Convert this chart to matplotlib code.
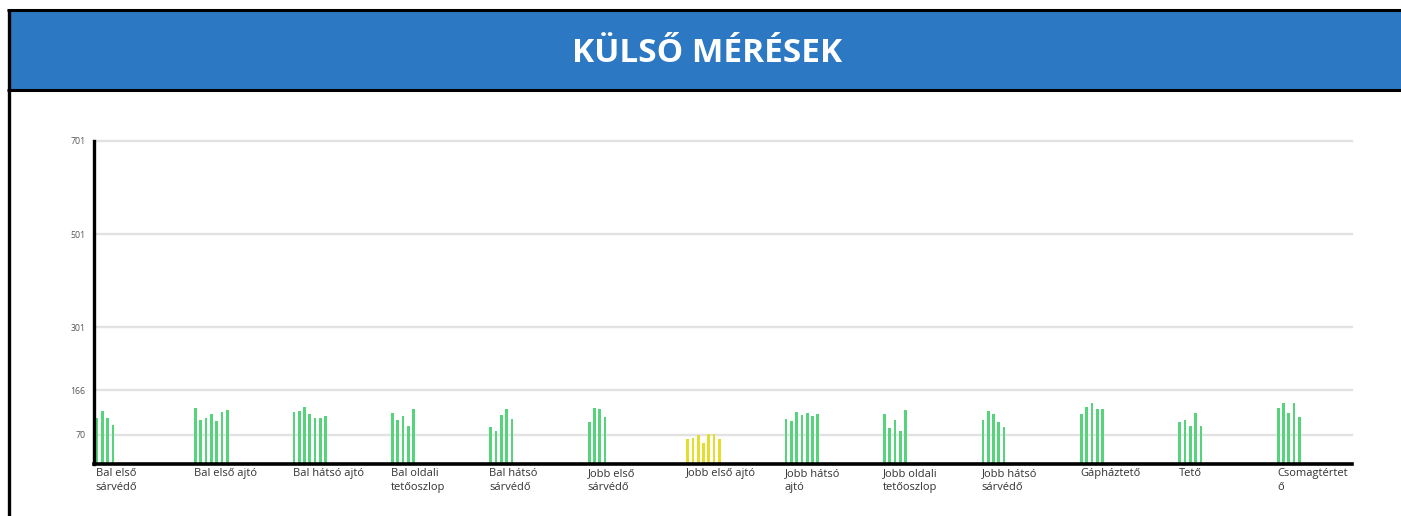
"""Külső mérések - bar chart recreation."""
import matplotlib
matplotlib.use("Agg")
import matplotlib.pyplot as plt
from matplotlib.patches import Rectangle
from matplotlib.lines import Line2D

TITLE = "KÜLSŐ MÉRÉSEK"

categories = [
    "Bal első\nsárvédő", "Bal első ajtó", "Bal hátsó ajtó", "Bal oldali\ntetőoszlop",
    "Bal hátsó\nsárvédő", "Jobb első\nsárvédő", "Jobb első ajtó", "Jobb hátsó\najtó",
    "Jobb oldali\ntetőoszlop", "Jobb hátsó\nsárvédő", "Gápháztető", "Tető", "Csomagtértet\nő",
]

# measured values per panel
values = [
    [106, 121, 106, 91],
    [128, 102, 106, 115, 100, 119, 123],
    [119, 121, 130, 115, 106, 106, 110],
    [117, 102, 110, 89, 126],
    [87, 78, 113, 126, 104],
    [98, 128, 126, 108],
    [61, 63, 70, 53, 72, 72, 61],
    [104, 100, 119, 113, 117, 110, 115],
    [115, 85, 102, 78, 123],
    [102, 121, 115, 98, 87],
    [115, 130, 138, 126, 126],
    [98, 102, 89, 117, 89],
    [128, 138, 117, 138, 108],
]

status = ["ok"] * 6 + ["warn"] + ["ok"] * 6

y_ticks = [70, 166, 301, 501, 701]

COLORS = {"ok": "#55d47b", "warn": "#e6dc2c"}
HEADER_BLUE = "#2c78c3"

W, H = 1401, 516
fig = plt.figure(figsize=(W / 100, H / 100), dpi=100)

# header band and frame lines (pixel coords converted to figure fraction)
def fy(py):
    return 1 - py / H

fig.patches.append(Rectangle((10 / W, fy(90)), 1, (90 - 10) / H, transform=fig.transFigure,
                             facecolor=HEADER_BLUE, edgecolor="none", zorder=0))
for line in [
    Line2D([7 / W, 1], [fy(10), fy(10)], lw=2.2, color="black", solid_capstyle="butt"),
    Line2D([7 / W, 1], [fy(90), fy(90)], lw=2.2, color="black", solid_capstyle="butt"),
    Line2D([8.5 / W, 8.5 / W], [fy(8.5), 0], lw=2.4, color="black", solid_capstyle="butt"),
]:
    line.set_transform(fig.transFigure)
    fig.lines.append(line)

fig.text(0.505, fy(54), TITLE, ha="center", va="center", color="white",
         fontsize=24, fontweight="bold", family="Open Sans")

ax = fig.add_axes([94 / W, fy(463.7), (1352 - 94) / W, (463.7 - 141) / H])

bar_pitch = 0.0538
bar_width = 0.0275
for i, (vals, st) in enumerate(zip(values, status)):
    xs = [i + 0.017 + j * bar_pitch for j in range(len(vals))]
    ax.bar(xs, [v - 8 for v in vals], bottom=8, width=bar_width, align="edge",
           color=COLORS[st], zorder=2)

ax.set_xlim(0, 12.78)
ax.set_ylim(8, 701)

for t in y_ticks:
    ax.axhline(t, color="#e2e2e2", lw=1.7, zorder=0, clip_on=False)

ax.set_yticks(y_ticks, [str(t) for t in y_ticks])
ax.tick_params(axis="y", length=0, pad=6, labelsize=6.3, labelcolor="#555555")
for lbl in ax.get_yticklabels():
    lbl.set_family("Open Sans")

ax.set_xticks([i + 0.017 for i in range(len(categories))], categories, ha="left")
ax.tick_params(axis="x", length=0, pad=3, labelsize=8, labelcolor="#333333")
for lbl in ax.get_xticklabels():
    lbl.set_family("Open Sans")
    lbl.set_linespacing(1.35)

for side in ["top", "right"]:
    ax.spines[side].set_visible(False)
ax.spines["left"].set_linewidth(2.4)
ax.spines["bottom"].set_linewidth(2.6)
ax.spines["left"].set_zorder(3)
ax.spines["bottom"].set_zorder(3)

fig.savefig("out.png", dpi=100)
